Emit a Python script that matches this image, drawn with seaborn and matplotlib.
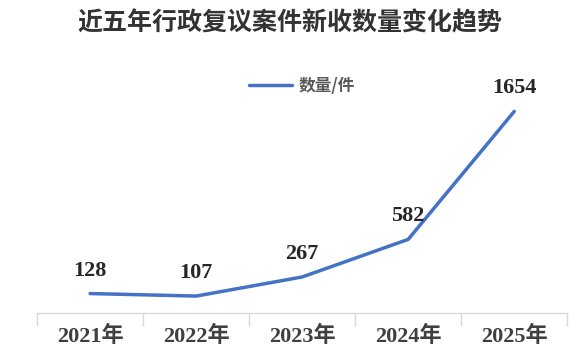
import pandas as pd
import matplotlib.pyplot as plt
import seaborn as sb

years = ["2021年", "2022年", "2023年", "2024年", "2025年"]
counts = [128, 107, 267, 582, 1654]

sb.set_theme(style="white")
plt.rcParams['font.family'] = ['Liberation Serif', 'Noto Sans CJK SC']

df = pd.DataFrame({'idx': range(len(years)), 'year': years, 'count': counts})

fig = plt.figure(figsize=(5.8, 3.58), dpi=100)
ax = fig.add_axes([0.064, 0.126, 0.914, 0.678])

sb.lineplot(data=df, x='idx', y='count', ax=ax, color='#4472C4', linewidth=2.5,
            label='数量/件')

ax.set_xlim(-0.5, 4.5)
ax.set_ylim(-34, 2000)
ax.set_xlabel('')
ax.set_ylabel('')
ax.set_yticks([])
for s in ['top', 'right', 'left']:
    ax.spines[s].set_visible(False)
ax.spines['bottom'].set_color('#d9d9d9')
ax.spines['bottom'].set_linewidth(1)

# tick marks between categories, labels at centers
ax.set_xticks([i - 0.5 for i in range(len(years) + 1)])
ax.set_xticklabels([])
ax.tick_params(axis='x', which='major', direction='out', length=9, color='#d9d9d9', width=1, bottom=True)
ax.set_xticks(range(len(years)), minor=True)
ax.set_xticklabels(years, minor=True, fontsize=16, fontweight='bold', color='#404040')
ax.tick_params(axis='x', which='minor', length=0, pad=9)

for i, v in enumerate(counts):
    ax.annotate(str(v), (i, v), xytext=(0, 13), textcoords='offset points', ha='center',
                fontsize=16, fontweight='bold', color='#262626')

leg = ax.legend(loc='upper center', bbox_to_anchor=(0.5, 1.035), frameon=False, handlelength=2.6,
                handletextpad=0.4, prop={'family': 'Noto Sans CJK SC', 'weight': 'bold', 'size': 12})
for t in leg.get_texts():
    t.set_color('#595959')

fig.text(0.5, 0.935, '近五年行政复议案件新收数量变化趋势', ha='center', va='center',
         fontsize=18, fontweight='bold', color='#333333', family='Noto Sans CJK SC')

plt.savefig('out.png', dpi=100)
